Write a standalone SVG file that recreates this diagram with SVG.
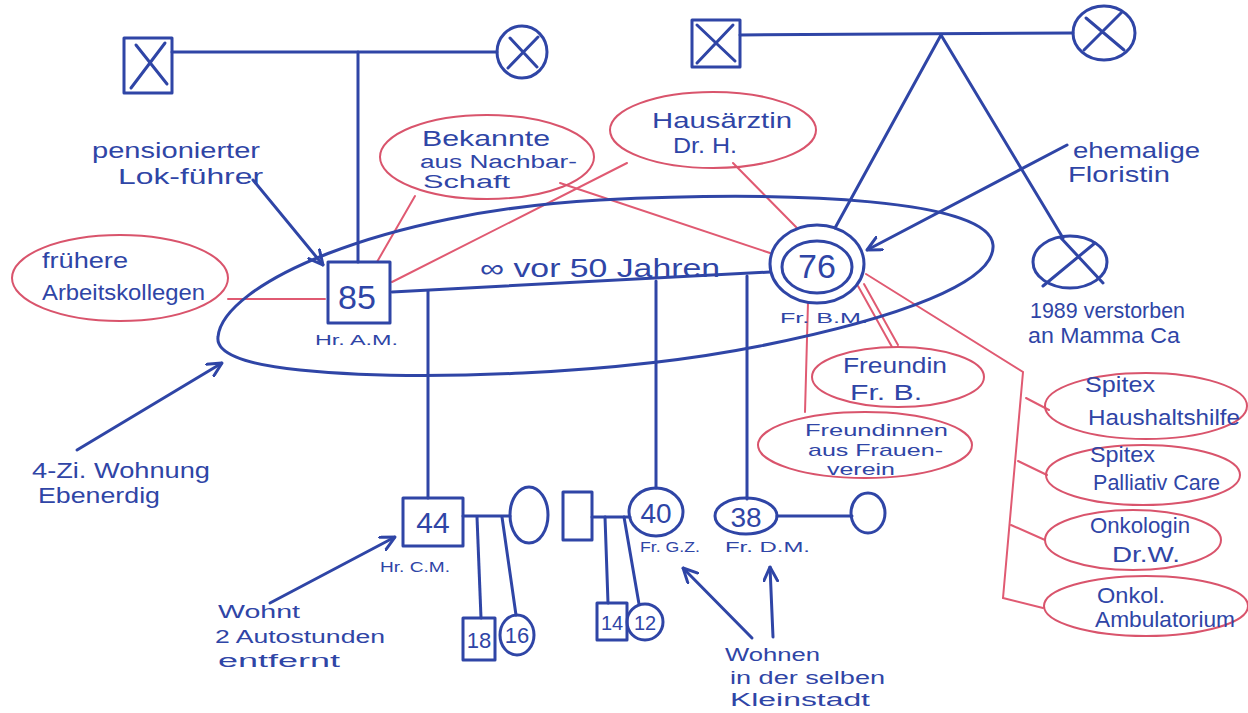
<svg xmlns="http://www.w3.org/2000/svg" width="1248" height="713" viewBox="0 0 1248 713">
<defs>
<style>
.b{fill:none;stroke:#2f45a6;stroke-width:3;stroke-linecap:round;stroke-linejoin:round}
.r{fill:none;stroke:#e05a72;stroke-width:2;stroke-linecap:round}
.re{fill:none;stroke:#d9546c;stroke-width:2}
text{font-family:"Liberation Sans",Arial,sans-serif;fill:#2f45a6}
.t{font-size:22px}
.m{font-size:18px}
.s{font-size:15px}
.n{font-size:34px}
</style>
<marker id="ah" viewBox="0 0 16 16" refX="15" refY="8" markerWidth="16" markerHeight="16" markerUnits="userSpaceOnUse" orient="auto">
<path d="M1,1 L15,8 L1,15" fill="none" stroke="#2f45a6" stroke-width="3" stroke-linecap="round"/>
</marker>
</defs>
<rect width="1248" height="713" fill="#ffffff"/>

<g id="connectors">
<path class="b" d="M172,52 L497,52"/>
<path class="b" d="M358,52 L358,262"/>
<path class="b" d="M740,35 L1073,33"/>
<path class="b" d="M941,35 L835,228"/>
<path class="b" d="M941,35 L1063,238"/>
<path class="b" d="M392,292 L770,272"/>
<path class="b" d="M428,291 L428,498"/>
<path class="b" d="M656,281 L656,488"/>
<path class="b" d="M747,276 L747,499"/>
<path class="b" d="M463,516 L510,516"/>
<path class="b" d="M477,517 L481,618"/>
<path class="b" d="M502,517 L516,615"/>
<path class="b" d="M592,517 L630,517"/>
<path class="b" d="M605,517 L608,603"/>
<path class="b" d="M624,517 L639,604"/>
<path class="b" d="M777,516 L852,516"/>
<path class="r" d="M228,299 L325,299"/>
<path class="r" d="M415,196 L377,262"/>
<path class="r" d="M560,183 L770,253"/>
<path class="r" d="M627,163 L392,282"/>
<path class="r" d="M733,163 L797,228"/>
<path class="r" d="M808,302 L805,412"/>
<path class="r" d="M858,286 L892,347"/>
<path class="r" d="M864,284 L898,345"/>
<path class="r" d="M866,274 L1023,372 L1003,598"/>
<path class="r" d="M1026,398 L1049,410"/>
<path class="r" d="M1018,461 L1047,475"/>
<path class="r" d="M1011,525 L1045,540"/>
<path class="r" d="M1003,598 L1043,608"/>
<path class="b" d="M253,180 L323,265" marker-end="url(#ah)"/>
<path class="b" d="M77,450 L222,363" marker-end="url(#ah)"/>
<path class="b" d="M1067,145 L867,250" marker-end="url(#ah)"/>
<path class="b" d="M270,603 L395,537" marker-end="url(#ah)"/>
<path class="b" d="M752,638 L683,568" marker-end="url(#ah)"/>
<path class="b" d="M773,637 L770,567" marker-end="url(#ah)"/>
</g>

<g id="household">
<path class="b" d="M218,337 C222,285 380,212 600,200 C800,190 990,200 993,245 C996,282 900,318 760,346 C620,374 420,382 300,370 C240,364 216,352 218,337 Z"/>
<text class="t" x="480" y="277" textLength="240" lengthAdjust="spacingAndGlyphs" style="font-size:25px">∞ vor 50 Jahren</text>
</g>

<g id="grandfather-am">
<rect class="b" x="124" y="38" width="48" height="55"/>
<path class="b" d="M131,88 L165,43 M136,45 L167,84"/>
</g>
<g id="grandmother-am">
<ellipse class="b" cx="522" cy="52" rx="25" ry="26"/>
<path class="b" d="M508,68 L538,37 M510,38 L537,67"/>
</g>
<g id="grandfather-bm">
<rect class="b" x="692" y="20" width="48" height="47"/>
<path class="b" d="M697,63 L733,25 M697,25 L735,61"/>
</g>
<g id="grandmother-bm">
<ellipse class="b" cx="1104" cy="33" rx="31" ry="27"/>
<path class="b" d="M1084,50 L1122,12 M1086,18 L1124,50"/>
</g>
<g id="sibling-bm">
<ellipse class="b" cx="1070" cy="262" rx="37" ry="26"/>
<path class="b" d="M1043,286 L1095,243 M1061,238 L1103,283"/>
<text class="t" x="1030" y="318" textLength="155" lengthAdjust="spacingAndGlyphs">1989 verstorben</text>
<text class="t" x="1028" y="343" textLength="152" lengthAdjust="spacingAndGlyphs">an Mamma Ca</text>
</g>

<g id="hr-am">
<rect class="b" x="328" y="262" width="62" height="61"/>
<text class="n" x="357" y="309" text-anchor="middle">85</text>
<text class="s" x="315" y="345" textLength="83" lengthAdjust="spacingAndGlyphs">Hr. A.M.</text>
</g>
<g id="fr-bm">
<ellipse class="b" cx="817" cy="264" rx="47" ry="39"/>
<ellipse class="b" cx="817" cy="267" rx="35" ry="26"/>
<text class="n" x="817" y="278" text-anchor="middle">76</text>
<text class="s" x="780" y="323" textLength="88" lengthAdjust="spacingAndGlyphs">Fr. B.M.</text>
</g>

<g id="hr-cm">
<rect class="b" x="403" y="498" width="60" height="48"/>
<text class="n" x="433" y="533" text-anchor="middle" style="font-size:30px">44</text>
<text class="s" x="380" y="572" textLength="70" lengthAdjust="spacingAndGlyphs">Hr. C.M.</text>
</g>
<g id="partner-cm">
<ellipse class="b" cx="529" cy="515" rx="19" ry="28"/>
</g>
<g id="son-18">
<rect class="b" x="463" y="618" width="32" height="42"/>
<text class="t" x="479" y="648" text-anchor="middle">18</text>
</g>
<g id="daughter-16">
<ellipse class="b" cx="517" cy="635" rx="17" ry="20"/>
<text class="t" x="517" y="643" text-anchor="middle">16</text>
</g>

<g id="partner-gz">
<rect class="b" x="563" y="492" width="29" height="48"/>
</g>
<g id="fr-gz">
<ellipse class="b" cx="656" cy="512" rx="27" ry="24"/>
<text class="n" x="656" y="523" text-anchor="middle" style="font-size:28px">40</text>
<text class="s" x="640" y="552" textLength="60" lengthAdjust="spacingAndGlyphs">Fr. G.Z.</text>
</g>
<g id="son-14">
<rect class="b" x="597" y="603" width="30" height="37"/>
<text class="t" x="612" y="630" text-anchor="middle" style="font-size:20px">14</text>
</g>
<g id="daughter-12">
<ellipse class="b" cx="645" cy="622" rx="18" ry="18"/>
<text class="t" x="645" y="630" text-anchor="middle" style="font-size:20px">12</text>
</g>

<g id="fr-dm">
<ellipse class="b" cx="746" cy="516" rx="31" ry="18"/>
<text class="n" x="746" y="527" text-anchor="middle" style="font-size:28px">38</text>
<text class="s" x="725" y="552" textLength="85" lengthAdjust="spacingAndGlyphs">Fr. D.M.</text>
</g>
<g id="partner-dm">
<ellipse class="b" cx="868" cy="513" rx="17" ry="20"/>
</g>

<g id="note-lokfuehrer">
<text class="t" x="92" y="158" textLength="168" lengthAdjust="spacingAndGlyphs">pensionierter</text>
<text class="t" x="118" y="184" textLength="145" lengthAdjust="spacingAndGlyphs">Lok-führer</text>
</g>
<g id="note-floristin">
<text class="t" x="1073" y="158" textLength="127" lengthAdjust="spacingAndGlyphs">ehemalige</text>
<text class="t" x="1068" y="182" textLength="102" lengthAdjust="spacingAndGlyphs">Floristin</text>
</g>
<g id="note-wohnung">
<text class="t" x="32" y="478" textLength="178" lengthAdjust="spacingAndGlyphs">4-Zi. Wohnung</text>
<text class="t" x="38" y="503" textLength="122" lengthAdjust="spacingAndGlyphs">Ebenerdig</text>
</g>
<g id="note-wohnt">
<text class="m" x="218" y="618" textLength="82" lengthAdjust="spacingAndGlyphs">Wohnt</text>
<text class="m" x="215" y="643" textLength="170" lengthAdjust="spacingAndGlyphs">2 Autostunden</text>
<text class="m" x="218" y="667" textLength="122" lengthAdjust="spacingAndGlyphs">entfernt</text>
</g>
<g id="note-kleinstadt">
<text class="m" x="725" y="661" textLength="95" lengthAdjust="spacingAndGlyphs">Wohnen</text>
<text class="m" x="730" y="684" textLength="155" lengthAdjust="spacingAndGlyphs">in der selben</text>
<text class="m" x="730" y="706" textLength="140" lengthAdjust="spacingAndGlyphs">Kleinstadt</text>
</g>

<g id="eco-arbeitskollegen">
<ellipse class="re" cx="120" cy="278" rx="108" ry="43"/>
<text class="t" x="42" y="268" textLength="86" lengthAdjust="spacingAndGlyphs">frühere</text>
<text class="t" x="42" y="300" textLength="163" lengthAdjust="spacingAndGlyphs">Arbeitskollegen</text>
</g>
<g id="eco-bekannte">
<ellipse class="re" cx="487" cy="157" rx="107" ry="42"/>
<text class="t" x="422" y="146" textLength="128" lengthAdjust="spacingAndGlyphs">Bekannte</text>
<text class="m" x="420" y="168" textLength="157" lengthAdjust="spacingAndGlyphs">aus Nachbar-</text>
<text class="m" x="423" y="188" textLength="87" lengthAdjust="spacingAndGlyphs">Schaft</text>
</g>
<g id="eco-hausaerztin">
<ellipse class="re" cx="713" cy="130" rx="103" ry="38"/>
<text class="t" x="652" y="128" textLength="140" lengthAdjust="spacingAndGlyphs">Hausärztin</text>
<text class="t" x="673" y="153" textLength="64" lengthAdjust="spacingAndGlyphs">Dr. H.</text>
</g>
<g id="eco-freundin">
<ellipse class="re" cx="898" cy="377" rx="86" ry="30"/>
<text class="t" x="843" y="373" textLength="104" lengthAdjust="spacingAndGlyphs">Freundin</text>
<text class="t" x="850" y="400" textLength="72" lengthAdjust="spacingAndGlyphs">Fr. B.</text>
</g>
<g id="eco-frauenverein">
<ellipse class="re" cx="865" cy="445" rx="107" ry="33"/>
<text x="805" y="436" textLength="143" lengthAdjust="spacingAndGlyphs" style="font-size:17px">Freundinnen</text>
<text x="808" y="456" textLength="135" lengthAdjust="spacingAndGlyphs" style="font-size:17px">aus Frauen-</text>
<text x="827" y="475" textLength="68" lengthAdjust="spacingAndGlyphs" style="font-size:17px">verein</text>
</g>
<g id="eco-spitex-haushalt">
<ellipse class="re" cx="1146" cy="406" rx="101" ry="33"/>
<text class="t" x="1085" y="392" textLength="70" lengthAdjust="spacingAndGlyphs">Spitex</text>
<text class="t" x="1088" y="425" textLength="152" lengthAdjust="spacingAndGlyphs">Haushaltshilfe</text>
</g>
<g id="eco-spitex-palliativ">
<ellipse class="re" cx="1143" cy="475" rx="97" ry="30"/>
<text class="t" x="1090" y="462" textLength="65" lengthAdjust="spacingAndGlyphs">Spitex</text>
<text class="t" x="1093" y="490" textLength="127" lengthAdjust="spacingAndGlyphs">Palliativ Care</text>
</g>
<g id="eco-onkologin">
<ellipse class="re" cx="1133" cy="540" rx="88" ry="30"/>
<text class="t" x="1090" y="533" textLength="100" lengthAdjust="spacingAndGlyphs">Onkologin</text>
<text class="t" x="1112" y="562" textLength="68" lengthAdjust="spacingAndGlyphs">Dr.W.</text>
</g>
<g id="eco-ambulatorium">
<ellipse class="re" cx="1146" cy="606" rx="102" ry="30"/>
<text class="t" x="1097" y="603" textLength="68" lengthAdjust="spacingAndGlyphs">Onkol.</text>
<text class="t" x="1095" y="627" textLength="140" lengthAdjust="spacingAndGlyphs">Ambulatorium</text>
</g>
</svg>
